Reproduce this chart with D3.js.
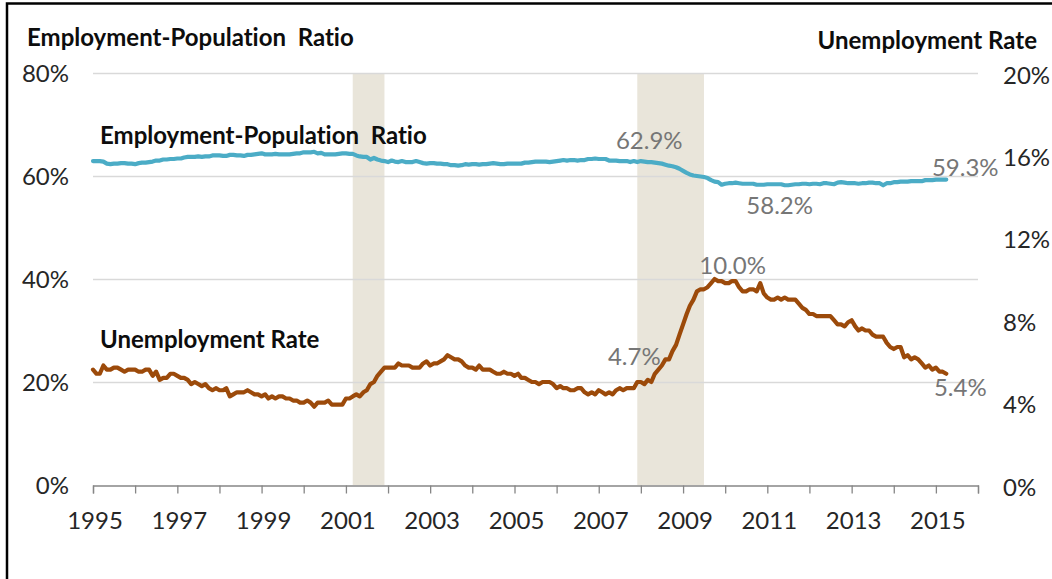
<!DOCTYPE html>
<html>
<head>
<meta charset="utf-8">
<script src="https://cdn.jsdelivr.net/npm/d3@7"></script>
<style>
  html, body { margin: 0; padding: 0; background: #fff; }
  svg { display: block; font-family: Lato, "Open Sans", sans-serif; font-variant-ligatures: none; }
</style>
</head>
<body>
<div id="chart"></div>
<script>
/* Employment-population ratio vs unemployment rate, monthly 1995-2015 */

const startYear = 1995;

// monthly employment-population ratio (%), one row per year
const eprByYear = [
  [62.9,62.9,62.9,62.8,62.4,62.3,62.4,62.4,62.5,62.5,62.4,62.4],
  [62.3,62.5,62.6,62.6,62.7,62.8,63.0,63.0,63.2,63.2,63.3,63.3],
  [63.4,63.4,63.6,63.7,63.7,63.7,63.8,63.7,63.8,63.8,64.0,64.0],
  [64.0,63.9,63.9,64.1,64.1,64.0,64.0,63.9,64.1,64.1,64.2,64.3],
  [64.4,64.2,64.2,64.2,64.3,64.2,64.2,64.2,64.2,64.3,64.4,64.4],
  [64.6,64.6,64.6,64.7,64.4,64.5,64.2,64.2,64.2,64.2,64.3,64.4],
  [64.4,64.3,64.3,64.0,63.8,63.7,63.7,63.2,63.5,63.2,63.0,62.9],
  [62.7,63.0,62.8,62.7,62.9,62.7,62.7,62.7,62.9,62.7,62.5,62.4],
  [62.5,62.5,62.4,62.4,62.3,62.3,62.1,62.1,62.0,62.1,62.3,62.2],
  [62.3,62.3,62.2,62.3,62.3,62.4,62.5,62.4,62.3,62.3,62.4,62.4],
  [62.4,62.4,62.4,62.6,62.6,62.7,62.8,62.8,62.8,62.8,62.7,62.8],
  [62.9,63.0,63.1,63.0,63.1,63.1,63.0,63.1,63.1,63.3,63.3,63.4],
  [63.3,63.3,63.3,63.0,63.0,63.0,62.9,62.9,62.9,62.7,62.9,62.7],
  [62.9,62.8,62.7,62.7,62.6,62.5,62.4,62.2,62.0,61.9,61.7,61.4],
  [61.0,60.6,60.3,60.1,60.0,59.9,59.8,59.6,59.2,58.9,58.8,58.3],
  [58.5,58.6,58.6,58.7,58.6,58.5,58.5,58.5,58.5,58.3,58.3,58.3],
  [58.4,58.4,58.4,58.4,58.4,58.2,58.2,58.3,58.4,58.4,58.5,58.5],
  [58.4,58.5,58.5,58.4,58.6,58.6,58.5,58.4,58.7,58.8,58.7,58.6],
  [58.6,58.6,58.5,58.6,58.6,58.7,58.7,58.6,58.6,58.2,58.6,58.6],
  [58.8,58.8,58.9,58.9,58.9,59.0,59.0,59.0,59.0,59.2,59.2,59.2],
  [59.3,59.3,59.3,59.3]
];

// monthly unemployment rate (%), one row per year
const urByYear = [
  [5.6,5.4,5.4,5.8,5.6,5.6,5.7,5.7,5.6,5.5,5.6,5.6],
  [5.6,5.5,5.5,5.6,5.6,5.3,5.5,5.1,5.2,5.2,5.4,5.4],
  [5.3,5.2,5.2,5.1,4.9,5.0,4.9,4.8,4.9,4.7,4.6,4.7],
  [4.6,4.6,4.7,4.3,4.4,4.5,4.5,4.5,4.6,4.5,4.4,4.4],
  [4.3,4.4,4.2,4.3,4.2,4.3,4.3,4.2,4.2,4.1,4.1,4.0],
  [4.0,4.1,4.0,3.8,4.0,4.0,4.0,4.1,3.9,3.9,3.9,3.9],
  [4.2,4.2,4.3,4.4,4.3,4.5,4.6,4.9,5.0,5.3,5.5,5.7],
  [5.7,5.7,5.7,5.9,5.8,5.8,5.8,5.7,5.7,5.7,5.9,6.0],
  [5.8,5.9,5.9,6.0,6.1,6.3,6.2,6.1,6.1,6.0,5.8,5.7],
  [5.7,5.6,5.8,5.6,5.6,5.6,5.5,5.4,5.4,5.5,5.4,5.4],
  [5.3,5.4,5.2,5.2,5.1,5.0,5.0,4.9,5.0,5.0,5.0,4.9],
  [4.7,4.8,4.7,4.7,4.6,4.6,4.7,4.7,4.5,4.4,4.5,4.4],
  [4.6,4.5,4.4,4.5,4.4,4.6,4.7,4.6,4.7,4.7,4.7,5.0],
  [5.0,4.9,5.1,5.0,5.4,5.6,5.8,6.1,6.1,6.5,6.8,7.3],
  [7.8,8.3,8.7,9.0,9.4,9.5,9.5,9.6,9.8,10.0,9.9,9.9],
  [9.8,9.8,9.9,9.9,9.6,9.4,9.4,9.5,9.5,9.4,9.8,9.3],
  [9.1,9.0,9.0,9.1,9.0,9.1,9.0,9.0,9.0,8.8,8.6,8.5],
  [8.3,8.3,8.2,8.2,8.2,8.2,8.2,8.0,7.8,7.8,7.7,7.9],
  [8.0,7.7,7.5,7.6,7.5,7.5,7.3,7.2,7.2,7.2,6.9,6.7],
  [6.6,6.7,6.7,6.2,6.3,6.1,6.2,6.1,5.9,5.7,5.8,5.6],
  [5.7,5.5,5.5,5.4]
];

// recessions [start, end) as [year, month index]
const recessions = [
  { from: [2001, 2], to: [2001, 11] },
  { from: [2007, 11], to: [2009, 6] }
];

const leftTicks = [0, 20, 40, 60, 80];
const rightTicks = [0, 4, 8, 12, 16, 20];
const yearLabels = d3.range(1995, 2016, 2);

// value callouts, anchored to a data point and nudged off the line
const callouts = [
  { series: 'epr', date: [2007, 11], text: '62.9%', dx: 12, dy: -22 },
  { series: 'epr', date: [2011, 3], text: '58.2%', dx: 2, dy: 21 },
  { series: 'epr', date: [2015, 3], text: '59.3%', dx: 19, dy: -12 },
  { series: 'ur',  date: [2009, 9], text: '10.0%', dx: 18, dy: -14 },
  { series: 'ur',  date: [2007, 11], text: '4.7%', dx: -3, dy: -26 },
  { series: 'ur',  date: [2015, 3], text: '5.4%', dx: 14, dy: 14 }
];

const toDate = ([y, m]) => new Date(Date.UTC(y, m, 1));
const flatten = rows => rows.flatMap((row, i) =>
  row.map((v, m) => ({ date: toDate([startYear + i, m]), value: v })));

const epr = flatten(eprByYear);
const ur = flatten(urByYear);

const W = 1052, H = 579;
const margin = { left: 93, right: 74, top: 73, bottom: 94 };

const svg = d3.select('#chart').append('svg').attr('width', W).attr('height', H);

// frame (only top and left edges fall inside the picture)
svg.append('rect')
  .attr('x', 7).attr('y', 3.5).attr('width', W + 20).attr('height', H + 20)
  .attr('fill', 'none').attr('stroke', '#000').attr('stroke-width', 2.5);

const x = d3.scaleUtc()
  .domain([toDate([1995, 0]), toDate([2016, 0])])
  .range([margin.left, W - margin.right]);
const yL = d3.scaleLinear().domain([0, 80]).range([H - margin.bottom, margin.top]);
const yR = d3.scaleLinear().domain([0, 20]).range([H - margin.bottom, margin.top]);

// recession shading
svg.append('g').selectAll('rect').data(recessions).join('rect')
  .attr('x', d => x(toDate(d.from)))
  .attr('width', d => x(toDate(d.to)) - x(toDate(d.from)))
  .attr('y', yL(80))
  .attr('height', yL(0) - yL(80))
  .attr('fill', '#e9e5da');

// gridlines
svg.append('g').selectAll('line').data(leftTicks.filter(t => t > 0)).join('line')
  .attr('x1', x.range()[0]).attr('x2', x.range()[1])
  .attr('y1', d => Math.round(yL(d)) + 0.5).attr('y2', d => Math.round(yL(d)) + 0.5)
  .attr('stroke', '#d9d9d9').attr('stroke-width', 1.3);

// x axis
const xAxis = svg.append('g')
  .attr('transform', `translate(0,${Math.round(yL(0)) + 0.5})`)
  .call(d3.axisBottom(x).ticks(d3.utcYear.every(1)).tickSize(8).tickFormat(''));
xAxis.select('.domain').attr('stroke', '#868686').attr('stroke-width', 1.3);
xAxis.selectAll('.tick line').attr('stroke', '#868686').attr('stroke-width', 1.3);

svg.append('g').selectAll('text').data(yearLabels).join('text')
  .attr('x', d => x(toDate([d, 0])) + 2)
  .attr('y', yL(0) + 44)
  .attr('text-anchor', 'middle')
  .attr('font-size', 24)
  .attr('fill', '#262626')
  .text(d => d);

// left axis labels
svg.append('g').selectAll('text').data(leftTicks).join('text')
  .attr('x', 69)
  .attr('y', d => yL(d))
  .attr('dy', '0.36em')
  .attr('text-anchor', 'end')
  .attr('font-size', 24)
  .attr('fill', '#262626')
  .text(d => d + '%');

// right axis labels
svg.append('g').selectAll('text').data(rightTicks).join('text')
  .attr('x', 1003)
  .attr('y', d => yR(d) + 2)
  .attr('dy', '0.36em')
  .attr('text-anchor', 'start')
  .attr('font-size', 24)
  .attr('fill', '#262626')
  .text(d => d + '%');

// lines
const eprLine = d3.line().x(d => x(d.date)).y(d => yL(d.value));
const urLine = d3.line().x(d => x(d.date)).y(d => yR(d.value));

svg.append('path').datum(epr)
  .attr('d', eprLine)
  .attr('fill', 'none').attr('stroke', '#4bacc6')
  .attr('stroke-width', 4.2).attr('stroke-linejoin', 'round').attr('stroke-linecap', 'round');

svg.append('path').datum(ur)
  .attr('d', urLine)
  .attr('fill', 'none').attr('stroke', '#9c4a0a')
  .attr('stroke-width', 4.2).attr('stroke-linejoin', 'round').attr('stroke-linecap', 'round');

// callouts
svg.append('g').selectAll('text').data(callouts).join('text')
  .attr('x', d => x(toDate(d.date)) + d.dx)
  .attr('y', d => (d.series === 'epr' ? yL : yR)(
      (d.series === 'epr' ? eprByYear : urByYear)[d.date[0] - startYear][d.date[1]]) + d.dy)
  .attr('dy', '0.36em')
  .attr('text-anchor', 'middle')
  .attr('font-size', 24)
  .attr('fill', '#767676')
  .text(d => d.text);

// titles and series labels
const bold = (txt, xx, yy, anchor) => svg.append('text')
  .attr('x', xx).attr('y', yy).attr('dy', '0.36em')
  .attr('text-anchor', anchor)
  .attr('font-size', 24).attr('font-weight', 700).attr('fill', '#0d0d0d')
  .text(txt);

bold('Employment-Population  Ratio', 27, 37, 'start').style('white-space', 'pre');
bold('Unemployment Rate', 1037, 40, 'end');
bold('Employment-Population  Ratio', 100, 135, 'start').style('white-space', 'pre');
bold('Unemployment Rate', 100, 339, 'start');
</script>
</body>
</html>
